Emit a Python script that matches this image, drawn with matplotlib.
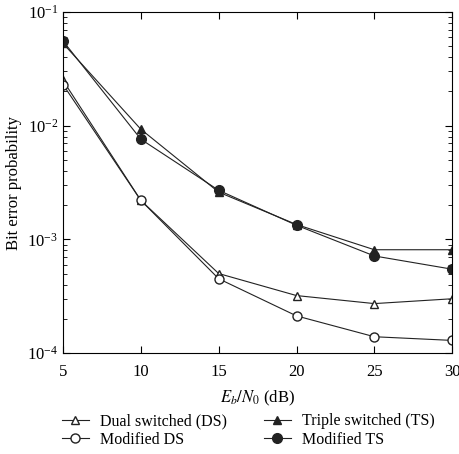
import numpy as np
import matplotlib
matplotlib.use('Agg')
import matplotlib.pyplot as plt

plt.rcParams['font.family'] = ['Liberation Serif', 'DejaVu Serif']
plt.rcParams['mathtext.fontset'] = 'stix'

# data
snr = [5, 10, 15, 20, 25, 30]
dual_ds = [0.025, 0.0022, 0.0005, 0.00032, 0.000272, 0.0003]
mod_ds = [0.023, 0.0022, 0.00045, 0.000212, 0.000139, 0.000129]
triple_ts = [0.053, 0.0093, 0.0026, 0.00135, 0.00081, 0.00081]
mod_ts = [0.0556, 0.0076, 0.0027, 0.00133, 0.000714, 0.000546]

fig = plt.figure(figsize=(4.6, 4.54), dpi=100)
ax = fig.add_axes([0.137, 0.2225, 0.846, 0.751])

lc = '#222222'
ax.plot(snr, dual_ds, color=lc, lw=0.8, marker='^', ms=6, mfc='white', mec=lc, label='Dual switched (DS)')
ax.plot(snr, mod_ds, color=lc, lw=0.8, marker='o', ms=6.5, mfc='white', mec=lc, label='Modified DS')
ax.plot(snr, triple_ts, color=lc, lw=0.8, marker='^', ms=6, mfc=lc, mec=lc, label='Triple switched (TS)')
ax.plot(snr, mod_ts, color=lc, lw=0.8, marker='o', ms=7, mfc=lc, mec=lc, label='Modified TS')

ax.set_yscale('log')
ax.set_xlim(5, 30)
ax.set_ylim(1e-4, 1e-1)
ax.set_xticks([5, 10, 15, 20, 25, 30])
ax.tick_params(which='both', direction='in', top=True, right=True, labelsize=12)
ax.tick_params(which='major', length=5)
ax.tick_params(which='minor', length=3)
ax.tick_params(axis='x', pad=8)
ax.set_xlabel(r'$E_b/N_0$ (dB)', fontsize=12, labelpad=6)
ax.set_ylabel('Bit error probability', fontsize=12)

handles, labels = ax.get_legend_handles_labels()
fig.legend(handles, labels, loc='lower left', bbox_to_anchor=(0.103, -0.018), ncol=2,
           frameon=False, fontsize=11.5, handlelength=1.7, columnspacing=2.3,
           labelspacing=0.15, handletextpad=0.7)

plt.savefig('out.png', dpi=100)
